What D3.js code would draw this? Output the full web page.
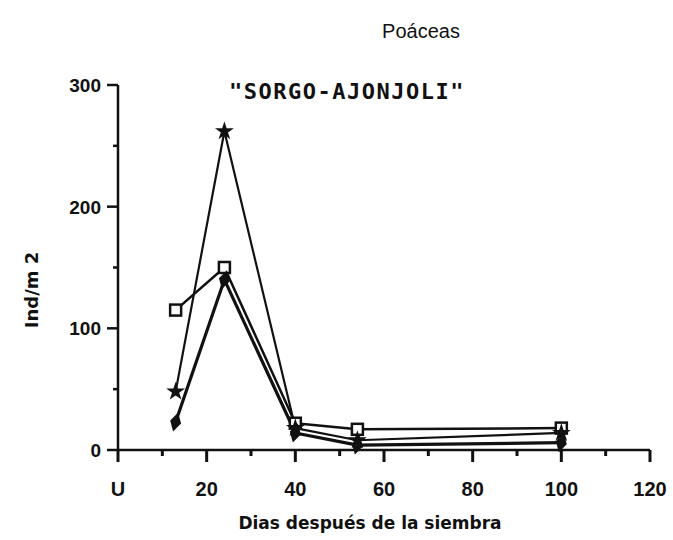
<!DOCTYPE html>
<html>
<head>
<meta charset="utf-8">
<script src="https://cdn.jsdelivr.net/npm/d3@7"></script>
<style>
  html, body { margin: 0; padding: 0; background: #fff; }
  svg { display: block; }
</style>
</head>
<body>
<svg id="chart" width="673" height="540"></svg>
<script>
// ---- data ----
const days = [13, 24, 40, 54, 100];
const seriesNames = ["cuadro", "asterisco", "rombo"];
const seriesSquare = [115, 150, 22, 17, 18];
const seriesStar = [48, 262, 18, 8, 14];
const seriesDiamond = [23, 140, 14, 4, 6];
const xTicks = [0, 20, 40, 60, 80, 100, 120];
const xTickLabels = ["U", "20", "40", "60", "80", "100", "120"];
const yTicks = [0, 100, 200, 300];
const titleTop = "Poáceas";
const titleMain = "\"SORGO-AJONJOLI\"";
const xLabel = "Dias después de la siembra";
const yLabel = "Ind/m 2";

const series = [
  { name: seriesNames[0], values: seriesSquare, marker: "square", width: 2.5 },
  { name: seriesNames[1], values: seriesStar, marker: "star", width: 2.2 },
  { name: seriesNames[2], values: seriesDiamond, marker: "diamond", width: 3.2 }
];

const svg = d3.select("#chart");
const x = d3.scaleLinear().domain([0, 120]).range([118, 650]);
const y = d3.scaleLinear().domain([0, 300]).range([450, 85]);

const ink = "#111";
const tickFont = "'Liberation Sans Narrow', 'Liberation Sans', Arial, sans-serif";

// axes lines
svg.append("line").attr("x1", x(0)).attr("x2", x(120)).attr("y1", y(0)).attr("y2", y(0))
  .attr("stroke", ink).attr("stroke-width", 2.5);
svg.append("line").attr("x1", x(0)).attr("x2", x(0)).attr("y1", y(0)).attr("y2", y(300))
  .attr("stroke", ink).attr("stroke-width", 2.5);

// y ticks (left side)
const yMinor = d3.range(50, 300, 100);
svg.selectAll(".ytick").data(yTicks).join("line")
  .attr("x1", x(0) - 11).attr("x2", x(0)).attr("y1", d => y(d)).attr("y2", d => y(d))
  .attr("stroke", ink).attr("stroke-width", 2.5);
svg.selectAll(".yminor").data(yMinor).join("line")
  .attr("x1", x(0) - 5).attr("x2", x(0)).attr("y1", d => y(d)).attr("y2", d => y(d))
  .attr("stroke", ink).attr("stroke-width", 2.5);
svg.selectAll(".ylab").data(yTicks).join("text")
  .attr("x", x(0) - 17).attr("y", d => y(d) + 7)
  .attr("text-anchor", "end")
  .attr("font-family", tickFont).attr("font-weight", "bold").attr("font-size", 19)
  .attr("fill", ink)
  .text(d => d);

// x ticks (below)
const xMinor = d3.range(10, 120, 20);
svg.selectAll(".xtick").data(xTicks).join("line")
  .attr("x1", d => x(d)).attr("x2", d => x(d)).attr("y1", y(0)).attr("y2", y(0) + 12)
  .attr("stroke", ink).attr("stroke-width", 3);
svg.selectAll(".xminor").data(xMinor).join("line")
  .attr("x1", d => x(d)).attr("x2", d => x(d)).attr("y1", y(0)).attr("y2", y(0) + 6)
  .attr("stroke", ink).attr("stroke-width", 3);
svg.selectAll(".xlab").data(xTicks).join("text")
  .attr("x", d => x(d)).attr("y", y(0) + 46)
  .attr("text-anchor", "middle")
  .attr("font-family", tickFont).attr("font-weight", "bold").attr("font-size", 20)
  .attr("fill", ink)
  .text((d, i) => xTickLabels[i]);

// titles
svg.append("text").attr("x", 421).attr("y", 38).attr("text-anchor", "middle")
  .attr("font-family", tickFont).attr("font-size", 20)
  .attr("fill", ink).text(titleTop);
svg.append("text").attr("x", 347).attr("y", 99).attr("text-anchor", "middle")
  .attr("font-family", "'DejaVu Sans Mono', monospace").attr("font-weight", "bold")
  .attr("font-size", 22).attr("letter-spacing", 1.5)
  .attr("fill", ink).text(titleMain);

// axis titles
svg.append("text").attr("x", 370).attr("y", 529).attr("text-anchor", "middle")
  .attr("font-family", "'DejaVu Sans', sans-serif").attr("font-weight", "bold")
  .attr("font-size", 17)
  .attr("fill", ink).text(xLabel);
svg.append("text").attr("transform", "translate(38,290) rotate(-90)")
  .attr("text-anchor", "middle")
  .attr("font-family", "'DejaVu Sans', sans-serif").attr("font-weight", "bold")
  .attr("font-size", 18)
  .attr("fill", ink).text(yLabel);

// lines
const line = d3.line().x((d, i) => x(days[i])).y(d => y(d));
svg.selectAll(".series").data(series).join("path")
  .attr("d", s => line(s.values))
  .attr("fill", "none").attr("stroke", ink)
  .attr("stroke-width", s => s.width).attr("stroke-linejoin", "round");

// markers
series.forEach(s => {
  const g = svg.append("g");
  s.values.forEach((v, i) => {
    const cx = x(days[i]), cy = y(v);
    if (s.marker === "square") {
      g.append("rect").attr("x", cx - 5.5).attr("y", cy - 5.5).attr("width", 11).attr("height", 11)
        .attr("fill", "#fff").attr("stroke", ink).attr("stroke-width", 2.5);
    } else if (s.marker === "star") {
      g.append("path").attr("d", d3.symbol(d3.symbolStar, 110)())
        .attr("transform", `translate(${cx},${cy})`).attr("fill", ink);
    } else {
      g.append("path").attr("d", d3.symbol(d3.symbolDiamond, 110)())
        .attr("transform", `translate(${cx},${cy}) rotate(15)`).attr("fill", ink);
    }
  });
});
</script>
</body>
</html>
